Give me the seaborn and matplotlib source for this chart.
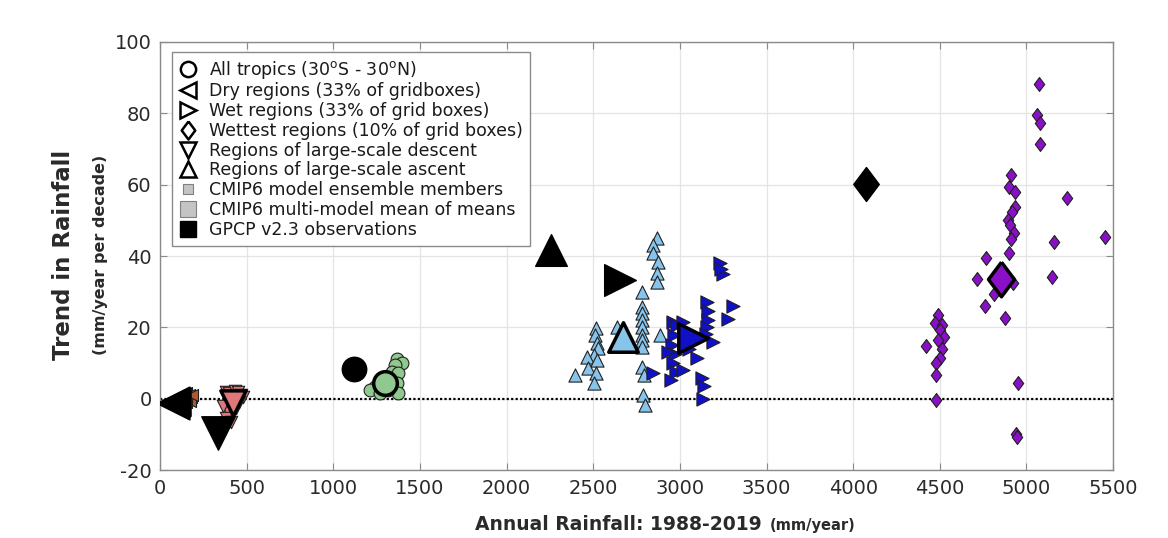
import matplotlib
matplotlib.use("Agg")
import matplotlib.pyplot as plt
from matplotlib.lines import Line2D
import seaborn as sns

# ---------------- data (annual rainfall mm/yr, trend mm/yr per decade) ----------------
# All tropics (circles)
tropics_x = [1368, 1396, 1356, 1339, 1374, 1368, 1241, 1212, 1374, 1270, 1327, 1316]
tropics_y = [11.3, 10.0, 9.4, 7.5, 7.2, 4.4, 3.3, 2.4, 1.6, 1.6, 5.2, 2.4]
tropics_mean = (1298, 4.5)
tropics_obs = (1120, 8.4)

# Dry regions (left triangles)
dry_x = [150, 165, 178, 160, 172, 148, 185]
dry_y = [1.5, 1.0, 0.5, 0.0, -0.5, -1.0, 1.2]
dry_mean = (95, -0.8)
dry_obs = (75, -1.2)

# Regions of large-scale descent (down triangles)
desc_x = [380, 400, 430, 450, 470, 480, 395, 380, 410, 440, 455, 365]
desc_y = [2.0, 1.5, 2.2, 1.8, 1.0, 0.5, -3.5, -5.5, -6.5, -2.5, -1.0, -2.0]
desc_mean = (421, -1.3)
desc_obs = (335, -9.5)

# Regions of large-scale ascent (up triangles)
asc_x = [2516, 2511, 2522, 2528, 2505, 2464, 2522, 2470, 2516, 2395, 2505,
         2637, 2689,
         2868, 2845, 2845, 2874, 2868, 2868,
         2782, 2782, 2782, 2782, 2782, 2782, 2782, 2886, 2782, 2782, 2793,
         2788, 2799]
asc_y = [19.8, 17.8, 15.6, 14.2, 12.2, 11.7, 10.8, 8.6, 7.2, 6.6, 4.4,
         20.1, 15.0,
         45.0, 43.0, 41.0, 38.3, 35.2, 32.7,
         29.9, 25.7, 24.0, 22.0, 20.1, 17.9, 16.5, 17.9, 14.5, 8.9, 6.6,
         1.0, -1.8]
asc_mean = (2672, 17.3)
asc_obs = (2257, 41.6)

# Wet regions (right triangles)
wet_x = [3232, 3250, 3240,
         3157, 3160, 3165, 3155, 3150, 3307, 3278, 3191,
         2960, 2965, 2955, 2970, 2960, 2975, 2950,
         3018, 3100, 3128, 3134, 2845, 2984, 3020, 3050, 3140, 2930]
wet_y = [38.0, 35.0, 36.5,
         27.0, 24.5, 22.0, 20.0, 18.3, 26.0, 22.5, 15.8,
         21.4, 18.0, 15.0, 12.5, 10.0, 7.5, 5.2,
         8.0, 11.4, 5.8, 0.0, 7.2, 20.7, 21.5, 14.0, 3.5, 13.0]
wet_mean = (3076, 17.0)
wet_obs = (2655, 33.2)

# Wettest regions (diamonds)
wettest_x = [5073, 5061, 5079, 5079, 4911, 4900, 4935, 4935, 4916, 4894, 4905,
             4928, 4911, 4900, 5234, 5159, 5453, 5148, 4767, 4715, 4813, 4761,
             4877, 4923, 4951, 4940, 4945,
             4490, 4473, 4513, 4502, 4525, 4490, 4421, 4513, 4502, 4479, 4479, 4479]
wettest_y = [88.2, 79.5, 77.3, 71.4, 62.7, 59.3, 57.9, 53.7, 52.3, 50.0, 48.7,
             46.5, 44.8, 40.9, 56.3, 43.9, 45.3, 34.1, 39.4, 33.5, 29.3, 26.0,
             22.6, 32.4, 4.4, -9.9, -10.8,
             23.4, 21.2, 20.6, 19.2, 17.3, 16.4, 14.7, 13.9, 11.4, 10.0, 6.6, -0.4]
wettest_mean = (4854, 33.5)
wettest_obs = (4075, 60.1)

# ---------------- styling ----------------
DIAMOND = [(0, 1), (0.75, 0), (0, -1), (-0.75, 0), (0, 1)]

groups = [
    # members x, members y, mean, obs, marker, colour, member size, mean size, obs size
    (dry_x, dry_y, dry_mean, dry_obs, "<", "#b0582e", 75, 380, 560),
    (desc_x, desc_y, desc_mean, desc_obs, "v", "#e0787a", 80, 330, 580),
    (tropics_x, tropics_y, tropics_mean, tropics_obs, "o", "#90c990", 85, 290, 310),
    (asc_x, asc_y, asc_mean, asc_obs, "^", "#87c4ec", 90, 450, 520),
    (wet_x, wet_y, wet_mean, wet_obs, ">", "#1010c8", 90, 450, 520),
    (wettest_x, wettest_y, wettest_mean, wettest_obs, DIAMOND, "#8a10c8", 100, 620, 600),
]

sns.set_theme(style="white")
plt.rcParams["font.family"] = ["DejaVu Sans"]
plt.rcParams["axes.unicode_minus"] = False

fig = plt.figure(figsize=(11.68, 5.38), dpi=100)
ax = fig.add_axes([0.137, 0.126, 0.816, 0.796])

ax.axhline(0, color="black", linestyle=(0, (1, 1)), linewidth=1.6, zorder=1)

for mx, my, mean, obs, mk, col, s_mem, s_mean, s_obs in groups:
    sns.scatterplot(x=mx, y=my, marker=mk, color=col, s=s_mem,
                    edgecolor="#202020", linewidth=0.8, ax=ax, zorder=3)
    sns.scatterplot(x=[mean[0]], y=[mean[1]], marker=mk, color=col, s=s_mean,
                    edgecolor="black", linewidth=2.5, ax=ax, zorder=4)
    sns.scatterplot(x=[obs[0]], y=[obs[1]], marker=mk, color="black", s=s_obs,
                    edgecolor="black", linewidth=1.0, ax=ax, zorder=5)

ax.set_xlim(0, 5500)
ax.set_ylim(-20, 100)
ax.set_xticks(range(0, 5501, 500))
ax.set_yticks(range(-20, 101, 20))
ax.grid(True, color="#e4e4e4", linewidth=0.9)
ax.set_axisbelow(True)
for sp in ax.spines.values():
    sp.set_color("#8a8a8a")
    sp.set_linewidth(1.0)
    sp.set_visible(True)
ax.tick_params(axis="both", direction="in", length=5, width=0.8, color="#8a8a8a",
               labelsize=14, labelcolor="#2a2a2a", top=True, right=True,
               bottom=True, left=True, pad=6)
ax.set_xlabel("")
ax.set_ylabel("")

# Axis titles
fig.text(0.054, 0.526, "Trend in Rainfall", rotation=90, ha="center", va="center",
         fontsize=16.5, fontweight="bold", color="#2a2a2a")
fig.text(0.086, 0.526, "(mm/year per decade)", rotation=90, ha="center", va="center",
         fontsize=11.5, fontweight="bold", color="#2a2a2a")
fig.text(762 / 1168, 0.026, "Annual Rainfall: 1988-2019", ha="right", va="center",
         fontsize=13.5, fontweight="bold", color="#2a2a2a")
fig.text(770 / 1168, 0.024, "(mm/year)", ha="left", va="center",
         fontsize=10.5, fontweight="bold", color="#2a2a2a")

# Legend
def hollow(mk, ms=12):
    return Line2D([], [], linestyle="None", marker=mk, markersize=ms,
                  markerfacecolor="white", markeredgecolor="black", markeredgewidth=1.8)

handles = [
    hollow("o", 11), hollow("<"), hollow(">"), hollow(DIAMOND, 13), hollow("v"), hollow("^"),
    Line2D([], [], linestyle="None", marker="s", markersize=7,
           markerfacecolor="#c4c4c4", markeredgecolor="#808080", markeredgewidth=0.8),
    Line2D([], [], linestyle="None", marker="s", markersize=12,
           markerfacecolor="#c4c4c4", markeredgecolor="#808080", markeredgewidth=0.8),
    Line2D([], [], linestyle="None", marker="s", markersize=12,
           markerfacecolor="black", markeredgecolor="black"),
]
labels = [
    r"All tropics (30$^\mathregular{o}$S - 30$^\mathregular{o}$N)",
    "Dry regions (33% of gridboxes)",
    "Wet regions (33% of grid boxes)",
    "Wettest regions (10% of grid boxes)",
    "Regions of large-scale descent",
    "Regions of large-scale ascent",
    "CMIP6 model ensemble members",
    "CMIP6 multi-model mean of means",
    "GPCP v2.3 observations",
]
leg = ax.legend(handles, labels, loc="upper left", bbox_to_anchor=(0.0126, 0.977),
                borderaxespad=0, frameon=True, fancybox=False, framealpha=1,
                edgecolor="#8a8a8a", fontsize=12.5, labelspacing=0.1,
                handlelength=1.0, handletextpad=0.75, borderpad=0.4)
leg.get_frame().set_linewidth(1.0)
for t in leg.get_texts():
    t.set_color("#1a1a1a")

fig.savefig("out.png", dpi=100, facecolor="white")
